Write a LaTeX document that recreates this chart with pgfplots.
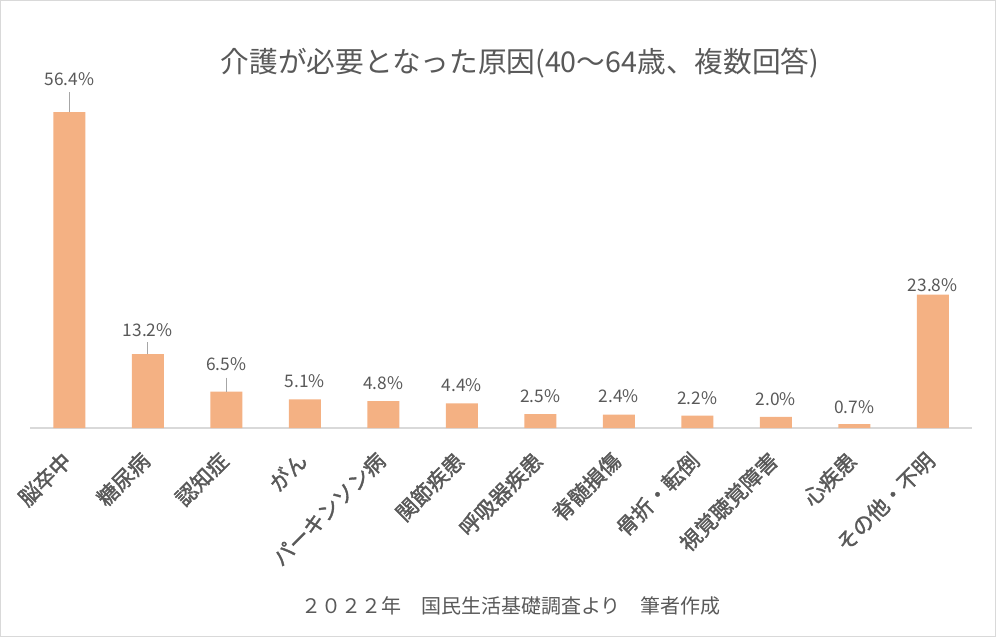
\documentclass[border=0pt]{standalone}
\usepackage{fontspec}
\setmainfont{Noto Sans CJK JP}
\newfontfamily\labfont[FakeBold=1.6]{Noto Sans CJK JP}
\usepackage{pgfplots}
\pgfplotsset{compat=1.18}
\usepackage{pgfplotstable}
\definecolor{barc}{HTML}{F4B183}
\definecolor{txt}{HTML}{595959}
\definecolor{gridc}{HTML}{D9D9D9}

% off = label lift above bar top (px), lead = leader line length (axis units)
\pgfplotstableread{
x y off lead
0 56.4 33 3.57
1 13.2 24 2.14
2 6.5 27 2.5
3 5.1 18 0
4 4.8 18 0
5 4.4 18 0
6 2.5 18 0
7 2.4 18 0
8 2.2 18 0
9 2.0 18 0
10 0.7 17 0
11 23.8 10 0
}\datatable

\begin{document}
\begin{tikzpicture}
\path[use as bounding box] (0,0) rectangle (747pt,477.75pt);
\draw[gridc, line width=0.75pt] (0.4pt,0.4pt) rectangle (746.6pt,477.35pt);
\begin{axis}[
    at={(22.5pt,156.75pt)}, anchor=south west,
    scale only axis,
    width=706.5pt, height=252pt,
    xmin=-0.5, xmax=11.5,
    ymin=0, ymax=60,
    axis x line*=bottom,
    axis y line=none,
    x axis line style={gridc, line width=1pt},
    major tick length=0pt,
    xtick=data,
    xticklabels={脳卒中,糖尿病,認知症,がん,パーキンソン病,関節疾患,呼吸器疾患,脊髄損傷,骨折・転倒,視覚聴覚障害,心疾患,その他・不明},
    xticklabel style={xshift=1pt, yshift=-19pt, rotate=45, anchor=east,
        font=\labfont\fontsize{16}{16}\selectfont, text=txt},
    ytick=\empty,
    clip=false,
]
\addplot[ybar, bar width=24pt, fill=barc, draw=none,
    nodes near coords={\pgfmathprintnumber[fixed,fixed zerofill,precision=1,assume math mode=true]{\pgfplotspointmeta}\%},
    visualization depends on={\thisrow{off} \as \off},
    every node near coord/.append style={anchor=center, yshift={\off*0.75pt},
        font=\fontsize{13}{13}\selectfont, text=txt},
    error bars/.cd, y dir=plus, y explicit, error mark=none,
    error bar style={color=gray!70, line width=0.8pt},
] table[x=x, y=y, y error=lead] {\datatable};
\end{axis}
\node[text=txt, font=\fontsize{21.5}{21.5}\selectfont] at (390pt,430.5pt) {介護が必要となった原因(40〜64歳、複数回答)};
\node[text=txt, font=\fontsize{15}{15}\selectfont] at (383.25pt,23.25pt) {２０２２年　国民生活基礎調査より　筆者作成};
\end{tikzpicture}
\end{document}
